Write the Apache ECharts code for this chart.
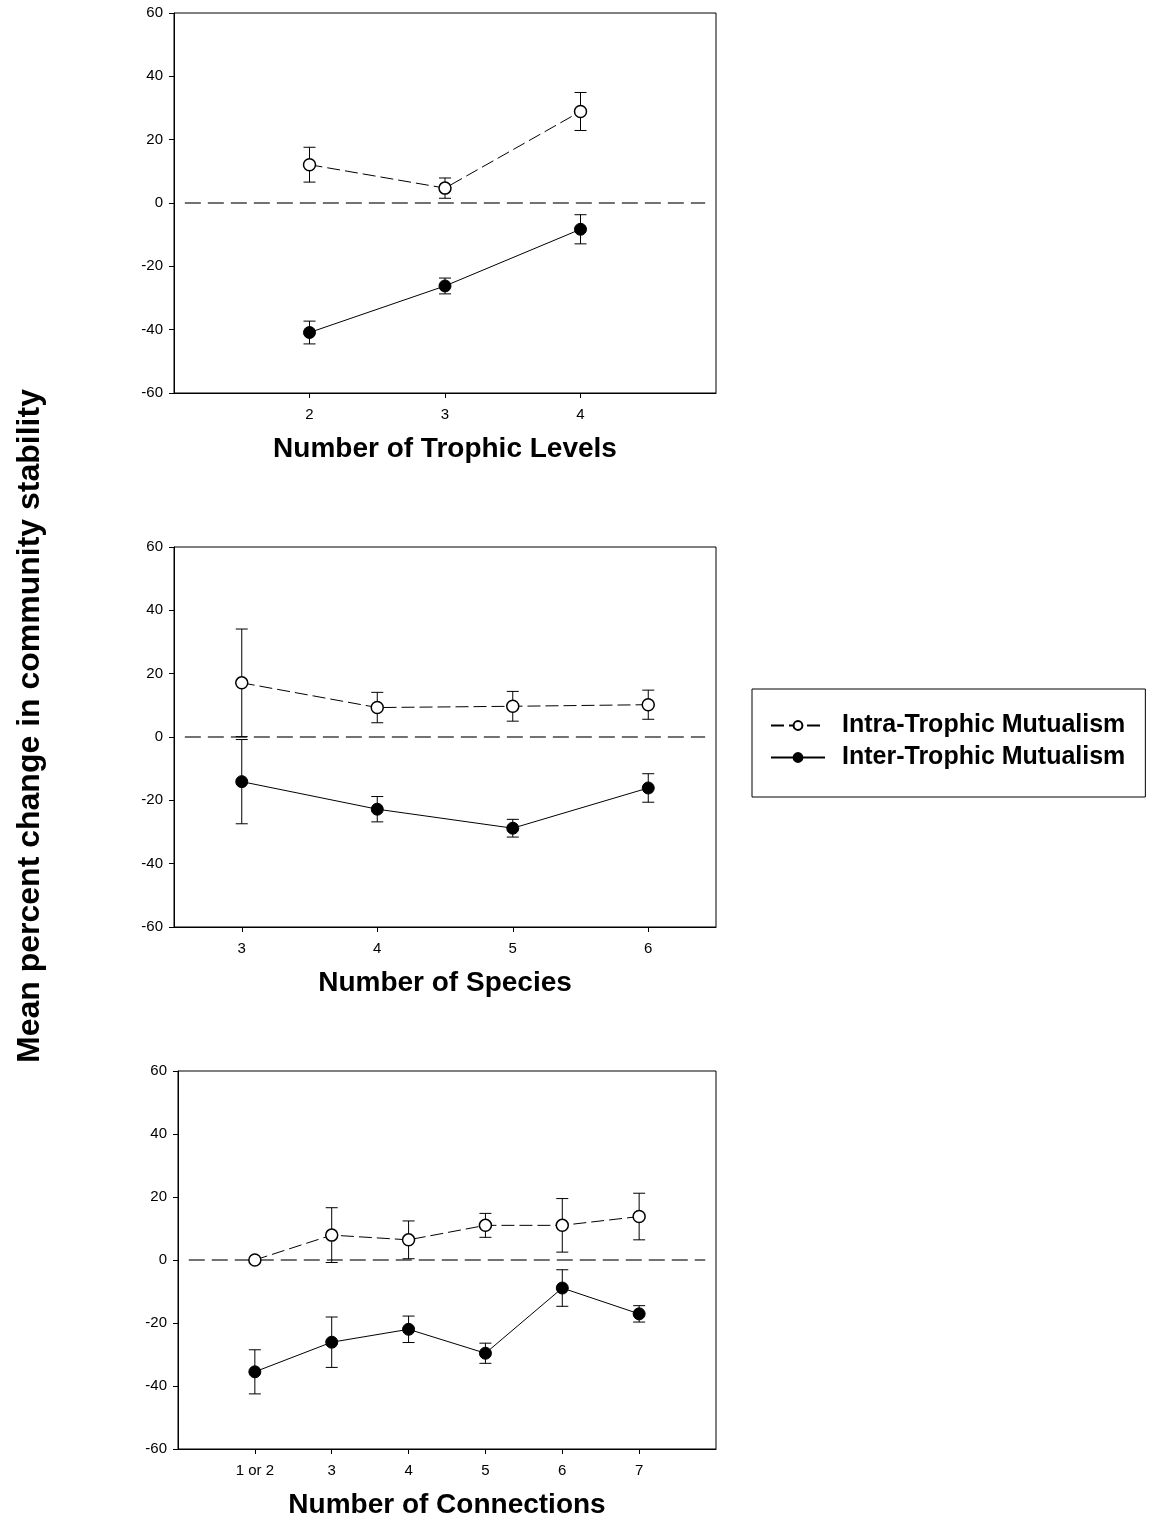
<!DOCTYPE html>
<html>
<head>
<meta charset="utf-8">
<title>Mean percent change in community stability</title>
<script src="https://cdn.jsdelivr.net/npm/echarts@6/dist/echarts.min.js"></script>
<style>
  html, body { margin: 0; padding: 0; background: #fff; }
  #chart { width: 1149px; height: 1520px; }
</style>
</head>
<body>
<div id="chart"></div>
<script>
// ---- Data ----
// Panel 1: number of trophic levels
const trophicLevels = [2, 3, 4];
const trophicIntraMean = [12.1, 4.7, 28.9];
const trophicIntraErr = [5.5, 3.2, 6.0];
const trophicInterMean = [-40.9, -26.2, -8.3];
const trophicInterErr = [3.6, 2.5, 4.6];

// Panel 2: number of species
const speciesCounts = [3, 4, 5, 6];
const speciesIntraMean = [17.1, 9.3, 9.7, 10.2];
const speciesIntraErr = [17.0, 4.8, 4.7, 4.6];
const speciesInterMean = [-14.1, -22.8, -28.8, -16.1];
const speciesInterErr = [13.3, 4.0, 2.8, 4.5];

// Panel 3: number of connections
const connectionLabels = ['1 or 2', '3', '4', '5', '6', '7'];
const connectionPos = [2, 3, 4, 5, 6, 7];
const connIntraMean = [0, 7.9, 6.4, 11.0, 11.0, 13.8];
const connIntraErr = [0, 8.7, 6.0, 3.8, 8.5, 7.4];
const connInterMean = [-35.5, -26.1, -22.0, -29.6, -8.9, -17.1];
const connInterErr = [7.0, 8.0, 4.2, 3.2, 5.8, 2.6];

const yTicks = [-60, -40, -20, 0, 20, 40, 60];

const INTRA = 'Intra-Trophic Mutualism';
const INTER = 'Inter-Trophic Mutualism';
const FONT = '"Liberation Sans", Arial, Helvetica, sans-serif';

// ---- Panels ----
const panels = [
  { title: 'Number of Trophic Levels', x: trophicLevels, labels: trophicLevels.map(String),
    min: 1, max: 5, intra: trophicIntraMean, intraErr: trophicIntraErr,
    inter: trophicInterMean, interErr: trophicInterErr,
    grid: { left: 174, top: 13, width: 542, height: 380 } },
  { title: 'Number of Species', x: speciesCounts, labels: speciesCounts.map(String),
    min: 2.5, max: 6.5, intra: speciesIntraMean, intraErr: speciesIntraErr,
    inter: speciesInterMean, interErr: speciesInterErr,
    grid: { left: 174, top: 547, width: 542, height: 380 } },
  { title: 'Number of Connections', x: connectionPos, labels: connectionLabels,
    min: 1, max: 8, intra: connIntraMean, intraErr: connIntraErr,
    inter: connInterMean, interErr: connInterErr,
    grid: { left: 178, top: 1071, width: 538, height: 378 } }
];

const grids = [], xAxes = [], yAxes = [], series = [];

function errorBarSeries(idx, xs, means, errs) {
  return {
    type: 'custom',
    xAxisIndex: idx, yAxisIndex: idx,
    silent: true, clip: false, z: 2,
    data: xs.map((x, i) => [x, means[i] - errs[i], means[i] + errs[i]]),
    renderItem: function (params, api) {
      const lo = api.coord([api.value(0), api.value(1)]);
      const hi = api.coord([api.value(0), api.value(2)]);
      const hw = 6;
      const st = { stroke: '#000', lineWidth: 1, fill: null };
      return {
        type: 'group',
        children: [
          { type: 'line', shape: { x1: hi[0], y1: hi[1], x2: lo[0], y2: lo[1] }, style: st },
          { type: 'line', shape: { x1: hi[0] - hw, y1: hi[1], x2: hi[0] + hw, y2: hi[1] }, style: st },
          { type: 'line', shape: { x1: lo[0] - hw, y1: lo[1], x2: lo[0] + hw, y2: lo[1] }, style: st }
        ]
      };
    }
  };
}

panels.forEach((p, idx) => {
  grids.push(Object.assign({ show: true, borderColor: '#000', borderWidth: 1, backgroundColor: 'transparent' }, p.grid));
  xAxes.push({
    type: 'value', gridIndex: idx, min: p.min, max: p.max,
    name: p.title, nameLocation: 'middle', nameGap: 42,
    nameTextStyle: { fontFamily: FONT, fontWeight: 'bold', fontSize: 28, color: '#000' },
    axisLine: { show: true, onZero: false, lineStyle: { color: '#000', width: 1 } },
    axisTick: { show: true, inside: false, length: 5, lineStyle: { color: '#000' }, customValues: p.x },
    axisLabel: {
      show: true, margin: 14, fontFamily: FONT, fontSize: 15, color: '#000',
      customValues: p.x,
      formatter: v => { const i = p.x.indexOf(v); return i >= 0 ? p.labels[i] : ''; }
    },
    splitLine: { show: false }
  });
  yAxes.push({
    type: 'value', gridIndex: idx, min: yTicks[0], max: yTicks[yTicks.length - 1], interval: 20,
    axisLine: { show: true, onZero: false, lineStyle: { color: '#000', width: 1 } },
    axisTick: { show: true, inside: false, length: 5, lineStyle: { color: '#000' } },
    axisLabel: { show: true, margin: 11, fontFamily: FONT, fontSize: 15, color: '#000' },
    splitLine: { show: false }
  });

  // dashed zero reference line, inset slightly from the frame
  const inset = (p.max - p.min) * 0.02;
  series.push({
    type: 'line', xAxisIndex: idx, yAxisIndex: idx, silent: true, z: 1,
    symbol: 'none', animation: false,
    data: [[p.min + inset, 0], [p.max - inset, 0]],
    lineStyle: { color: '#444', width: 1.6, type: [16, 7] }
  });

  series.push(errorBarSeries(idx, p.x, p.intra, p.intraErr));
  series.push(errorBarSeries(idx, p.x, p.inter, p.interErr));

  series.push({
    name: INTRA, type: 'line', xAxisIndex: idx, yAxisIndex: idx, z: 5,
    data: p.x.map((x, i) => [x, p.intra[i]]),
    symbol: 'circle', symbolSize: 12, animation: false,
    lineStyle: { color: '#000', width: 1, type: [13, 5] },
    itemStyle: { color: '#fff', borderColor: '#000', borderWidth: 1.5 }
  });
  series.push({
    name: INTER, type: 'line', xAxisIndex: idx, yAxisIndex: idx, z: 5,
    data: p.x.map((x, i) => [x, p.inter[i]]),
    symbol: 'circle', symbolSize: 12, animation: false,
    lineStyle: { color: '#000', width: 1, type: 'solid' },
    itemStyle: { color: '#000', borderColor: '#000', borderWidth: 1 }
  });
});

const chart = echarts.init(document.getElementById('chart'), null, { renderer: 'canvas' });
chart.setOption({
  backgroundColor: '#fff',
  animation: false,
  grid: grids,
  xAxis: xAxes,
  yAxis: yAxes,
  legend: {
    data: [INTRA, INTER],
    orient: 'vertical',
    left: 752, top: 689,
    padding: [24, 20, 27, 18],
    itemGap: 7,
    itemWidth: 54, itemHeight: 11,
    borderColor: '#000', borderWidth: 1,
    selectedMode: false,
    textStyle: { fontFamily: FONT, fontWeight: 'bold', fontSize: 25, color: '#000', padding: [0, 0, 0, 12] }
  },
  graphic: [{
    type: 'text',
    x: 30, y: 726, rotation: Math.PI / 2,
    style: {
      text: 'Mean percent change in community stability',
      font: 'bold 32px ' + FONT,
      fill: '#000', align: 'center', verticalAlign: 'middle'
    }
  }],
  series: series
});
</script>
</body>
</html>
